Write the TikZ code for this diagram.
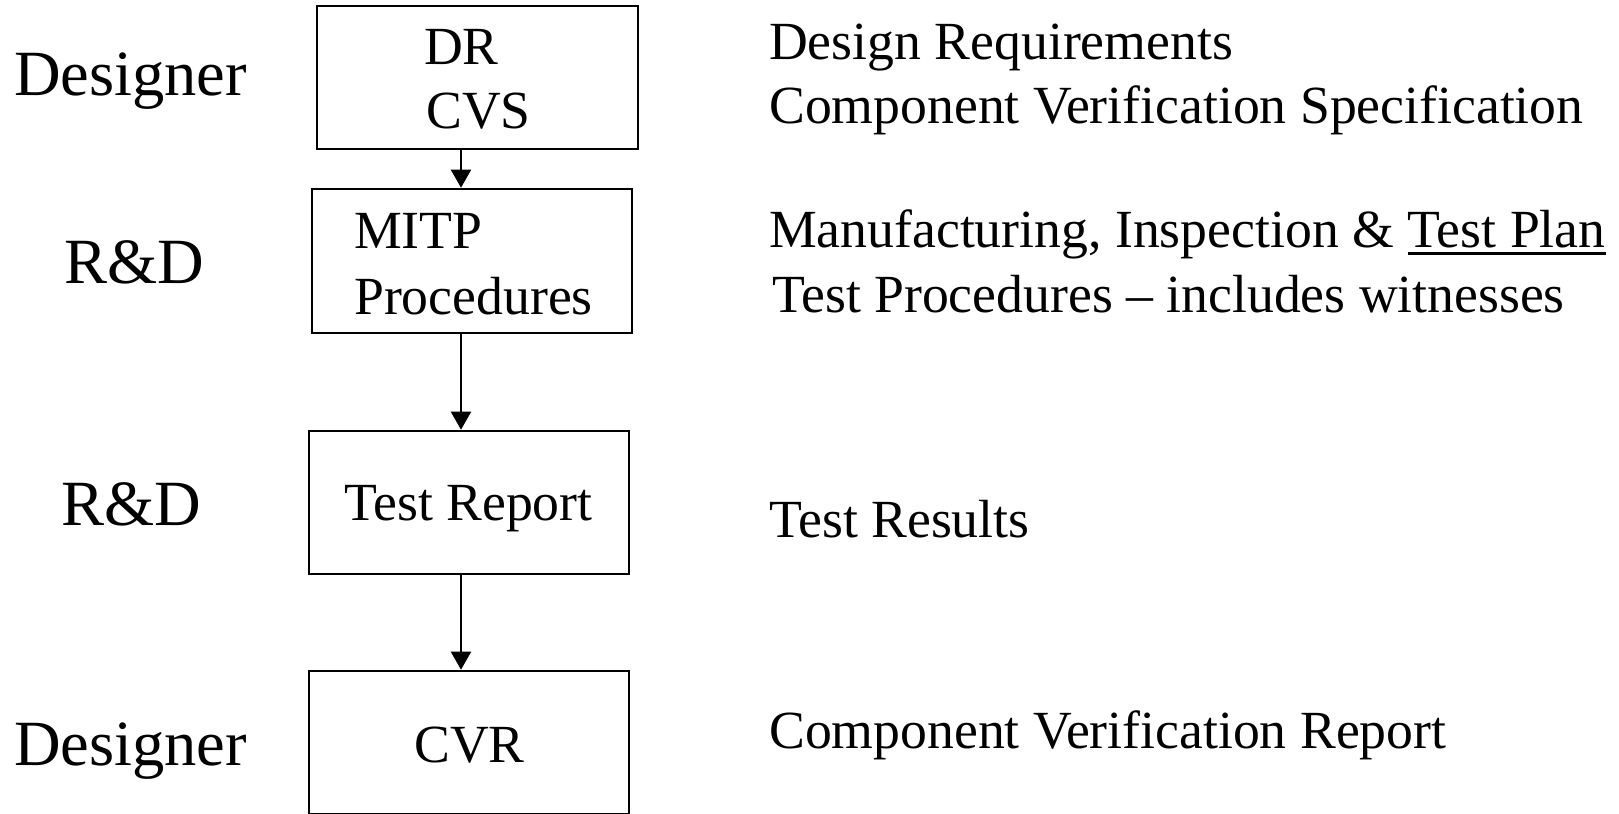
\documentclass[tikz,border=0pt]{standalone}
\usepackage{fontspec}
\setmainfont{Liberation Serif}
\usetikzlibrary{arrows.meta}
\begin{document}
\begin{tikzpicture}[x=1bp,y=-1bp,
  stepbox/.style={draw, line width=2.6bp, inner sep=0pt, minimum width=320bp},
  rt/.style={inner sep=0pt, anchor=base west, font=\fontsize{53.7bp}{63bp}\selectfont},
  lab/.style={inner sep=0pt, anchor=base west, font=\fontsize{64.5bp}{70bp}\selectfont},
  arr/.style={line width=2bp, -{Triangle[width=20bp,length=18bp]}}]
\useasboundingbox (0,0) rectangle (1619,813);
\clip (0,0) rectangle (1619,813);
% boxes
\node[stepbox, minimum width=321bp, minimum height=143bp] (b1) at (477.5,77.5) {};
\node[stepbox, minimum height=144bp] (b2) at (472,261) {};
\node[stepbox, minimum height=143bp] (b3) at (469,502.5) {};
\node[stepbox, minimum height=143bp] (b4) at (469,742.5) {};
% box texts
\node[rt] (t1a) at (424,65) {DR};
\node[rt] (t1b) at (426,128) {CVS};
\node[rt] (t2a) at (354,248) {MITP};
\node[rt] (t2b) at (354,314) {Procedures};
\node[rt] (t3) at (344,520) {Test Report};
\node[rt] (t4) at (414,762) {CVR};
% arrows
\coordinate (ax) at (461,0);
\draw[arr] (b1.south -| ax) -- (b2.north -| ax);
\draw[arr] (b2.south -| ax) -- (b3.north -| ax);
\draw[arr] (b3.south -| ax) -- (b4.north -| ax);
% left labels
\node[lab] (l1) at (14,95) {Designer};
\node[lab] (l2) at (64,283) {R\&D};
\node[lab] (l3) at (61,525) {R\&D};
\node[lab] (l4) at (14,765) {Designer};
% right texts
\node[rt] (r1) at (769,60) {Design Requirements};
\node[rt] (r2) at (769,123) {Component Verification Specification};
\node[rt] (r3) at (769,247) {Manufacturing, Inspection \&};
\node[rt] (r3b) at ([xshift=13.4bp]r3.base east) {Test Plan};
\draw[line width=2.5bp] ([yshift=-6.5bp]r3b.base west) -- ([yshift=-6.5bp]r3b.base east);
\node[rt] (r4) at (772,312) {Test Procedures -- includes witnesses};
\node[rt] (r5) at (769,537) {Test Results};
\node[rt] (r6) at (769,748) {Component Verification Report};
\end{tikzpicture}
\end{document}
